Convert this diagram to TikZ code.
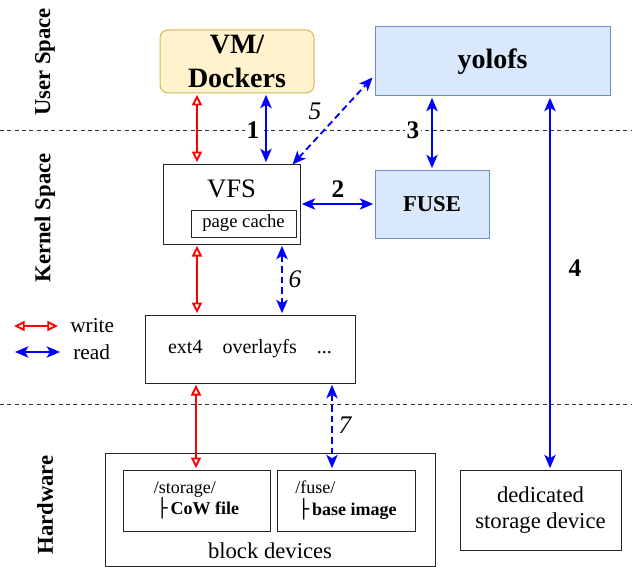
\documentclass[tikz,border=0pt]{standalone}
\usepackage{fontspec}
\setmainfont{Liberation Serif}
\newfontfamily\boxfont{DejaVu Sans}
\usetikzlibrary{arrows.meta, calc}

\definecolor{vmfill}{HTML}{FFF2CC}
\definecolor{vmdraw}{HTML}{D6B656}
\definecolor{fsfill}{HTML}{DAE8FC}
\definecolor{fsdraw}{HTML}{6C8EBF}

\def\pxu{0.75pt}

\begin{document}
\begin{tikzpicture}[
    x=0.75pt, y=-0.75pt,
    box/.style    = {rectangle, draw=black!85, line width=0.75pt,
                     inner sep=0pt, align=center,
                     font=\fontsize{17}{20}\selectfont},
    vmbox/.style  = {box, fill=vmfill, draw=vmdraw, rounded corners=6pt,
                     font=\fontsize{21}{26}\selectfont\bfseries},
    bluebox/.style= {box, fill=fsfill, draw=fsdraw},
    side/.style   = {rotate=90, font=\fontsize{17}{20}\selectfont\bfseries},
    num/.style    = {font=\fontsize{19}{22}\selectfont\bfseries,
                     fill=white, inner sep=1pt},
    inum/.style   = {font=\fontsize{19}{22}\selectfont\itshape, inner sep=1pt},
    legtxt/.style = {font=\fontsize{16}{19}\selectfont, inner sep=0pt},
    wr/.style     = {draw=red, line width=1.4pt,
                     {Triangle[open, length=8pt, width=7.5pt]}-{Triangle[open, length=8pt, width=7.5pt]}},
    rd/.style     = {draw=blue, line width=1.4pt,
                     {Stealth[length=10pt, width=8.5pt, inset=2.5pt]}-{Stealth[length=10pt, width=8.5pt, inset=2.5pt]}},
    rddash/.style = {rd, dash pattern=on 5pt off 3pt},
    sepline/.style= {draw=black!80, line width=0.6pt, dash pattern=on 3pt off 2.5pt},
]
\useasboundingbox (0,0) rectangle (632,567);

%% ---- Layout coordinates ----
\def\ySepA{130}
\def\ySepB{404}

%% ==================================================================
%% SEPARATORS AND SIDE LABELS
%% ==================================================================
\coordinate (sepAl) at (0,\ySepA);
\coordinate (sepAr) at (632,\ySepA);
\coordinate (sepBl) at (0,\ySepB);
\coordinate (sepBr) at (632,\ySepB);
\draw[sepline] (sepAl) -- (sepAr);
\draw[sepline] (sepBl) -- (sepBr);

\node[side] (user) at (45,62) {User Space};
\node[side] (kern) at (45,218) {Kernel Space};
\node[side] (hw)   at (45,505) {Hardware};

%% ==================================================================
%% NODES
%% ==================================================================
\node[vmbox, minimum width=154*\pxu, minimum height=63*\pxu] (vm)
    at (237,61.5) {VM/\\Dockers};
\node[bluebox, minimum width=235*\pxu, minimum height=69*\pxu,
      font=\fontsize{21}{26}\selectfont\bfseries] (yolo)
    at (492.5,61.5) {yolofs};

\node[box, minimum width=137*\pxu, minimum height=80*\pxu] (vfs)
    at (231.5,204) {};
\node[font=\fontsize{20}{24}\selectfont, inner sep=0pt] (vfstxt)
    at (231.5,189) {VFS};
\node[box, minimum width=105*\pxu, minimum height=27*\pxu,
      font=\fontsize{14}{17}\selectfont] (cache)
    at (243.5,223.5) {page cache};

\node[bluebox, minimum width=114*\pxu, minimum height=68*\pxu,
      font=\fontsize{17}{20}\selectfont\bfseries] (fuse)
    at (432,204) {FUSE};

\node[box, minimum width=210*\pxu, minimum height=68*\pxu,
      font=\fontsize{15}{18}\selectfont] (fsbox)
    at (250,349) {ext4\quad overlayfs\quad ...};

\node[box, minimum width=330*\pxu, minimum height=113*\pxu] (blk)
    at (270,509.5) {};
\node[font=\fontsize{17}{20}\selectfont, inner sep=0pt] (blktxt)
    at (270,551) {block devices};
\node[box, minimum width=147*\pxu, minimum height=61*\pxu, align=left,
      font=\fontsize{13.5}{16}\selectfont] (cow)
    at (196.5,500.5) {/storage/\\\,{\boxfont ├}\,\textbf{CoW file}};
\node[box, minimum width=138*\pxu, minimum height=61*\pxu, align=left,
      font=\fontsize{13.5}{16}\selectfont] (base)
    at (346,500.5) {/fuse/\\\,{\boxfont ├}\,\textbf{base image}};

\node[box, minimum width=161*\pxu, minimum height=80*\pxu,
      font=\fontsize{17}{20}\selectfont] (dev)
    at (540.5,510) {dedicated\\storage device};

%% ==================================================================
%% CONNECTIONS
%% ==================================================================
\coordinate (xWa) at (197,0);
\coordinate (xRa) at (266,0);
\coordinate (xRd) at (550,0);
\coordinate (xRf) at (282,0);
\coordinate (xWc) at (196,0);
\coordinate (xRg) at (332,0);

%% VM <-> VFS
\draw[wr, shorten <=1pt, shorten >=1pt] (vm.south -| xWa) -- (vfs.north -| xWa);
\draw[rd, shorten <=1pt, shorten >=1pt] (vm.south -| xRa) -- (vfs.north -| xRa);
\node[num] (n1) at (253,\ySepA) {1};

%% VFS <-> FUSE <-> yolofs
\draw[rd, shorten <=1pt, shorten >=1pt] (vfs.east) -- (fuse.west);
\node[num] (n2) at (338,189) {2};
\draw[rd, shorten <=1pt, shorten >=1pt] (yolo.south -| fuse.north) -- (fuse.north);
\node[num] (n3) at (413,\ySepA) {3};

%% yolofs <-> dedicated device
\draw[rd, shorten <=1pt, shorten >=1pt] (yolo.south -| xRd) -- (dev.north -| xRd);
\node[num] (n4) at (575,268) {4};

%% VFS <-> yolofs (dashed)
\draw[rddash] ($(vfs.north east)+(-8,1)$) -- ($(yolo.west)+(-2,16)$);
\node[inum] (n5) at (315,111) {5};

%% VFS <-> ext4 / overlayfs
\draw[wr, shorten <=1pt, shorten >=1pt] (vfs.south -| xWa) -- (fsbox.north -| xWa);
\draw[rddash, shorten <=1pt, shorten >=1pt] (vfs.south -| xRf) -- (fsbox.north -| xRf);
\node[inum] (n6) at (295,279) {6};

%% ext4 / overlayfs <-> block devices
\draw[wr, shorten <=1pt, shorten >=1pt] (fsbox.south -| xWc) -- (cow.north -| xWc);
\draw[rddash, shorten <=1pt, shorten >=1pt] (fsbox.south -| xRg) -- (base.north -| xRg);
\node[inum] (n7) at (345,425) {7};

%% ==================================================================
%% LEGEND
%% ==================================================================
\node[legtxt, anchor=west] (wlbl) at (70,326) {write};
\node[legtxt, anchor=west] (rlbl) at (73,352) {read};
\coordinate (wlA) at (14,326);
\coordinate (wlB) at (58,326);
\coordinate (rlA) at (15,352);
\coordinate (rlB) at (60,352);
\draw[wr] (wlA) -- (wlB);
\draw[rd] (rlA) -- (rlB);

\end{tikzpicture}
\end{document}
